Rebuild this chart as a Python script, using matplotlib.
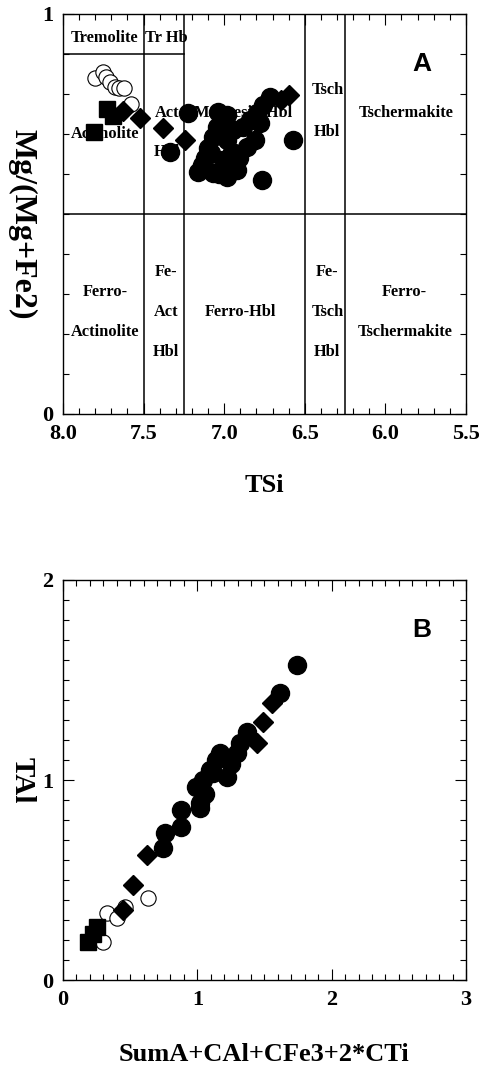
import matplotlib
matplotlib.use("Agg")
import matplotlib.pyplot as plt
from matplotlib.ticker import MultipleLocator, FixedLocator

# ---------------- Panel A data (TSi vs Mg/(Mg+Fe2)) ----------------
a_open_x = [7.80, 7.75, 7.735, 7.71, 7.68, 7.65, 7.62, 7.575]
a_open_y = [0.839, 0.856, 0.843, 0.831, 0.818, 0.814, 0.814, 0.774]

a_sq_x = [7.81, 7.73, 7.69]
a_sq_y = [0.705, 0.762, 0.745]

a_dia_x = [7.63, 7.52, 7.38, 7.24, 6.60, 6.65]
a_dia_y = [0.757, 0.739, 0.714, 0.685, 0.797, 0.785]

a_circ_x = [7.225, 7.336, 7.14, 7.07, 6.985, 6.92, 7.08, 7.005, 6.91, 7.07, 7.047,
            6.985, 6.943, 6.881, 6.84, 6.798, 6.778, 6.757, 6.716, 6.809, 6.861,
            7.16, 7.026, 7.036, 6.985, 6.573, 6.766, 7.10, 6.95, 7.03, 6.93, 7.12]
a_circ_y = [0.752, 0.656, 0.622, 0.602, 0.593, 0.610, 0.652, 0.635, 0.639, 0.693, 0.718,
            0.685, 0.710, 0.718, 0.735, 0.752, 0.727, 0.772, 0.793, 0.685, 0.668,
            0.606, 0.710, 0.756, 0.747, 0.685, 0.585, 0.665, 0.655, 0.600, 0.625, 0.640]

# field boundaries
tsi_bounds = [7.5, 7.25, 6.5, 6.25]
mg_bound = 0.5
trem_bound = 0.9

# field names: (label, x, y)
field_labels = [
    ("Tremolite", 7.74, 0.94), ("Tr Hb", 7.36, 0.94),
    ("Actinolite", 7.74, 0.70), ("Act", 7.355, 0.753), ("Hbl", 7.355, 0.655),
    ("Magnesio-Hbl", 6.88, 0.753), ("Tsch", 6.36, 0.81), ("Hbl", 6.36, 0.705),
    ("Tschermakite", 5.87, 0.753),
    ("Ferro-", 7.74, 0.305), ("Actinolite", 7.74, 0.205),
    ("Fe-", 7.36, 0.355), ("Act", 7.36, 0.255), ("Hbl", 7.36, 0.155),
    ("Ferro-Hbl", 6.90, 0.255),
    ("Fe-", 6.36, 0.355), ("Tsch", 6.36, 0.255), ("Hbl", 6.36, 0.155),
    ("Ferro-", 5.88, 0.305), ("Tschermakite", 5.88, 0.205),
]

# ---------------- Panel B data (SumA+CAl+CFe3+2*CTi vs TAl) ----------------
b_sq_x = [0.188, 0.251, 0.22]
b_sq_y = [0.19, 0.267, 0.23]

b_open_x = [0.30, 0.325, 0.40, 0.462, 0.635]
b_open_y = [0.19, 0.333, 0.308, 0.367, 0.408]

b_dia_x = [0.449, 0.524, 0.623, 1.442, 1.491, 1.553]
b_dia_y = [0.35, 0.475, 0.625, 1.183, 1.29, 1.383]

b_circ_x = [0.744, 0.757, 0.881, 0.881, 1.017, 0.993, 1.042, 1.092, 1.141, 1.166,
            1.02, 1.119, 1.218, 1.193, 1.293, 1.367, 1.318, 1.615, 1.740, 1.06, 1.25]
b_circ_y = [0.658, 0.733, 0.767, 0.850, 0.858, 0.967, 1.000, 1.050, 1.100, 1.133,
            0.885, 1.033, 1.017, 1.117, 1.133, 1.242, 1.183, 1.433, 1.575, 0.93, 1.08]

SERIF = ["Liberation Serif", "DejaVu Serif"]
SANS = ["Liberation Sans", "DejaVu Sans"]

fig = plt.figure(figsize=(4.79, 10.65), dpi=100)
axA = fig.add_axes([0.1315, 0.6113, 0.8413, 0.3756])
axB = fig.add_axes([0.1315, 0.0798, 0.8413, 0.3756])


def style_ticks(ax):
    ax.tick_params(which="both", direction="in", top=True, right=True, width=0.8,
                   color="black")
    ax.tick_params(which="major", length=8)
    ax.tick_params(which="minor", length=4)
    for lab in ax.get_xticklabels() + ax.get_yticklabels():
        lab.set_fontfamily(SERIF)
        lab.set_fontweight("bold")
        lab.set_fontsize(16)
    ax.tick_params(axis="x", pad=7)
    ax.tick_params(axis="y", pad=7)
    for s in ax.spines.values():
        s.set_linewidth(1.0)


# ---------------- Panel A ----------------
axA.set_xlim(8.0, 5.5)
axA.set_ylim(0, 1)
for xb in tsi_bounds:
    axA.axvline(xb, color="black", lw=1.1, zorder=1)
axA.axhline(mg_bound, color="black", lw=1.1, zorder=1)
axA.plot([8.0, 7.25], [trem_bound, trem_bound], color="black", lw=1.1, zorder=1)
for lab, x, y in field_labels:
    axA.text(x, y, lab, ha="center", va="center", fontsize=11.8, fontweight="bold",
             family=SERIF, zorder=2)

axA.plot(a_open_x, a_open_y, "o", ms=11, mfc="white", mec="black", mew=0.8, ls="none", zorder=3)
axA.plot(a_sq_x, a_sq_y, "s", ms=12, mfc="black", mec="black", ls="none", zorder=4)
axA.plot(a_dia_x, a_dia_y, "D", ms=10, mfc="black", mec="black", ls="none", zorder=4)
axA.plot(a_circ_x, a_circ_y, "o", ms=13, mfc="black", mec="black", ls="none", zorder=4)

axA.xaxis.set_major_locator(FixedLocator([8.0, 7.5, 7.0, 6.5, 6.0, 5.5]))
axA.xaxis.set_minor_locator(MultipleLocator(0.1))
axA.set_xticklabels(["8.0", "7.5", "7.0", "6.5", "6.0", "5.5"])
axA.yaxis.set_major_locator(FixedLocator([0, 1]))
axA.yaxis.set_minor_locator(MultipleLocator(0.1))
axA.set_yticklabels(["0", "1"])
style_ticks(axA)
axA.text(0.89, 0.875, "A", transform=axA.transAxes, ha="center", va="center",
         fontsize=19, fontweight="bold", family=SANS)
axA.set_xlabel("TSi", fontsize=19, fontweight="bold", family=SERIF, labelpad=22)
axA.set_ylabel("Mg/(Mg+Fe2)", fontsize=23, fontweight="bold", family=SERIF,
               rotation=270, va="center")
axA.yaxis.set_label_coords(-0.102, 0.475)

# ---------------- Panel B ----------------
axB.set_xlim(0, 3)
axB.set_ylim(0, 2)
axB.plot(b_open_x, b_open_y, "o", ms=11, mfc="white", mec="black", mew=0.8, ls="none", zorder=3)
axB.plot(b_sq_x, b_sq_y, "s", ms=12, mfc="black", mec="black", ls="none", zorder=4)
axB.plot(b_dia_x, b_dia_y, "D", ms=10, mfc="black", mec="black", ls="none", zorder=4)
axB.plot(b_circ_x, b_circ_y, "o", ms=13, mfc="black", mec="black", ls="none", zorder=4)
axB.xaxis.set_major_locator(MultipleLocator(1))
axB.xaxis.set_minor_locator(MultipleLocator(0.1))
axB.yaxis.set_major_locator(MultipleLocator(1))
axB.yaxis.set_minor_locator(MultipleLocator(0.1))
style_ticks(axB)
axB.text(0.89, 0.875, "B", transform=axB.transAxes, ha="center", va="center",
         fontsize=19, fontweight="bold", family=SANS)
axB.set_xlabel("SumA+CAl+CFe3+2*CTi", fontsize=19, fontweight="bold", family=SERIF,
               labelpad=24)
axB.set_ylabel("TAl", fontsize=21, fontweight="bold", family=SERIF,
               rotation=270, va="center")
axB.yaxis.set_label_coords(-0.102, 0.5)

fig.savefig("out.png", dpi=100)
